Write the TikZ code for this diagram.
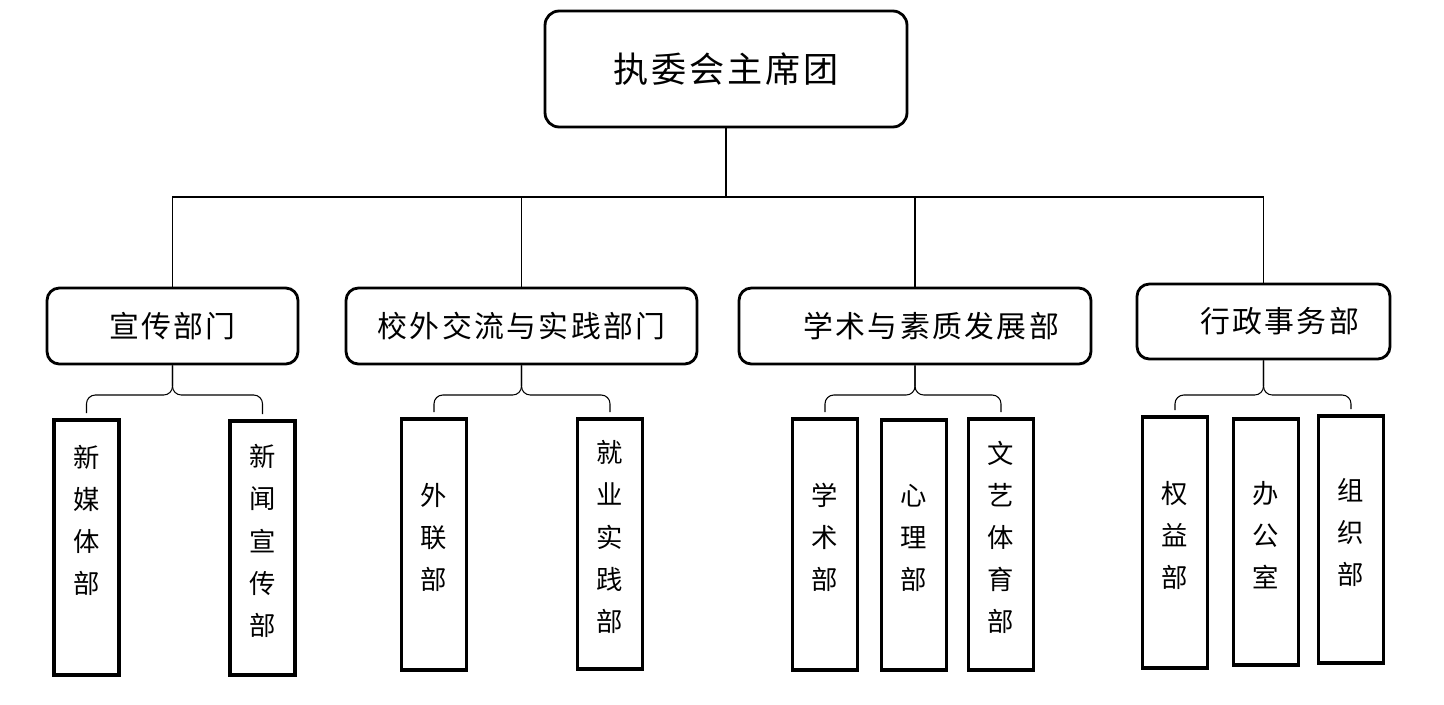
\documentclass[tikz,border=0pt]{standalone}
\usepackage{fontspec}
\newfontfamily\cjk[LetterSpace=8]{Noto Sans CJK SC}
\usetikzlibrary{calc}
\newcommand\vtext[1]{\raisebox{4pt}[\height][\depth]{\parbox{2em}{\centering #1}}}

\begin{document}
\begin{tikzpicture}[x=0.02cm,y=-0.02cm,
    top node/.style={draw,rounded corners=8pt,line width=1.6pt,inner sep=0pt,
      minimum width=7.24cm,minimum height=2.32cm,font=\cjk\fontsize{20}{24}\selectfont},
    dept node/.style={draw,rounded corners=7pt,line width=1.6pt,inner sep=0pt,
      minimum height=1.52cm,font=\cjk\fontsize{17}{20}\selectfont},
    unit node/.style={draw,line width=2pt,inner sep=0pt,minimum width=1.3cm,
      font=\cjk\fontsize{15}{24}\selectfont},
    link/.style={line width=0.6pt},
    brace/.style={line width=0.6pt,rounded corners=5pt,shorten >=3pt}]

  \useasboundingbox (0,0) rectangle (1444,704);

  \node[top node] (top) at (726,69) {执委会主席团};

  \node[dept node,minimum width=5.02cm] (xc) at (172.5,326) {宣传部门};
  \node[dept node,minimum width=7.02cm] (wl) at (521.5,326) {校外交流与实践部门};
  \node[dept node,minimum width=7.04cm] (xs) at (915,326) {　学术与素质发展部};
  \node[dept node,minimum width=5.06cm,minimum height=1.5cm] (xz) at (1263.5,321.5) {　行政事务部};

  \node[unit node,minimum height=5.1cm] (xc1) at (86.5,547.5) {\vtext{新\\媒\\体\\部\\~}};
  \node[unit node,minimum height=5.08cm] (xc2) at (262.5,548) {\vtext{新\\闻\\宣\\传\\部}};
  \node[unit node,minimum height=5.02cm] (wl1) at (434,544.5) {\vtext{外\\联\\部}};
  \node[unit node,minimum height=5cm] (wl2) at (610,544) {\vtext{就\\业\\实\\践\\部}};
  \node[unit node,minimum height=5.02cm] (xs1) at (825,544.5) {\vtext{学\\术\\部}};
  \node[unit node,minimum height=5cm] (xs2) at (914,545) {\vtext{心\\理\\部}};
  \node[unit node,minimum height=5.02cm] (xs3) at (1001,544.5) {\vtext{文\\艺\\体\\育\\部}};
  \node[unit node,minimum height=5.02cm] (xz1) at (1175,542.5) {\vtext{权\\益\\部}};
  \node[unit node,minimum height=4.92cm] (xz2) at (1266,542) {\vtext{办\\公\\室}};
  \node[unit node,minimum height=4.94cm] (xz3) at (1351,539.5) {\vtext{组\\织\\部}};

  \coordinate (bus) at (0,197);
  \coordinate (fork) at (0,395);

  % top level
  \draw[link] (top.south) -- (top.south |- bus);
  \draw[link] (xc.north) |- (xz.north |- bus) -- (xz.north);
  \draw[link] (wl.north) -- (wl.north |- bus);
  \draw[link] (xs.north) -- (xs.north |- bus);

  % braces
  \foreach \p/\c in {xc/xc1,xc/xc2,wl/wl1,wl/wl2,xs/xs1,xs/xs3,xz/xz1,xz/xz3}
    \draw[brace] (\p.south) -- (\p.south |- fork) -- (\c.north |- fork) -- (\c.north);
\end{tikzpicture}
\end{document}
